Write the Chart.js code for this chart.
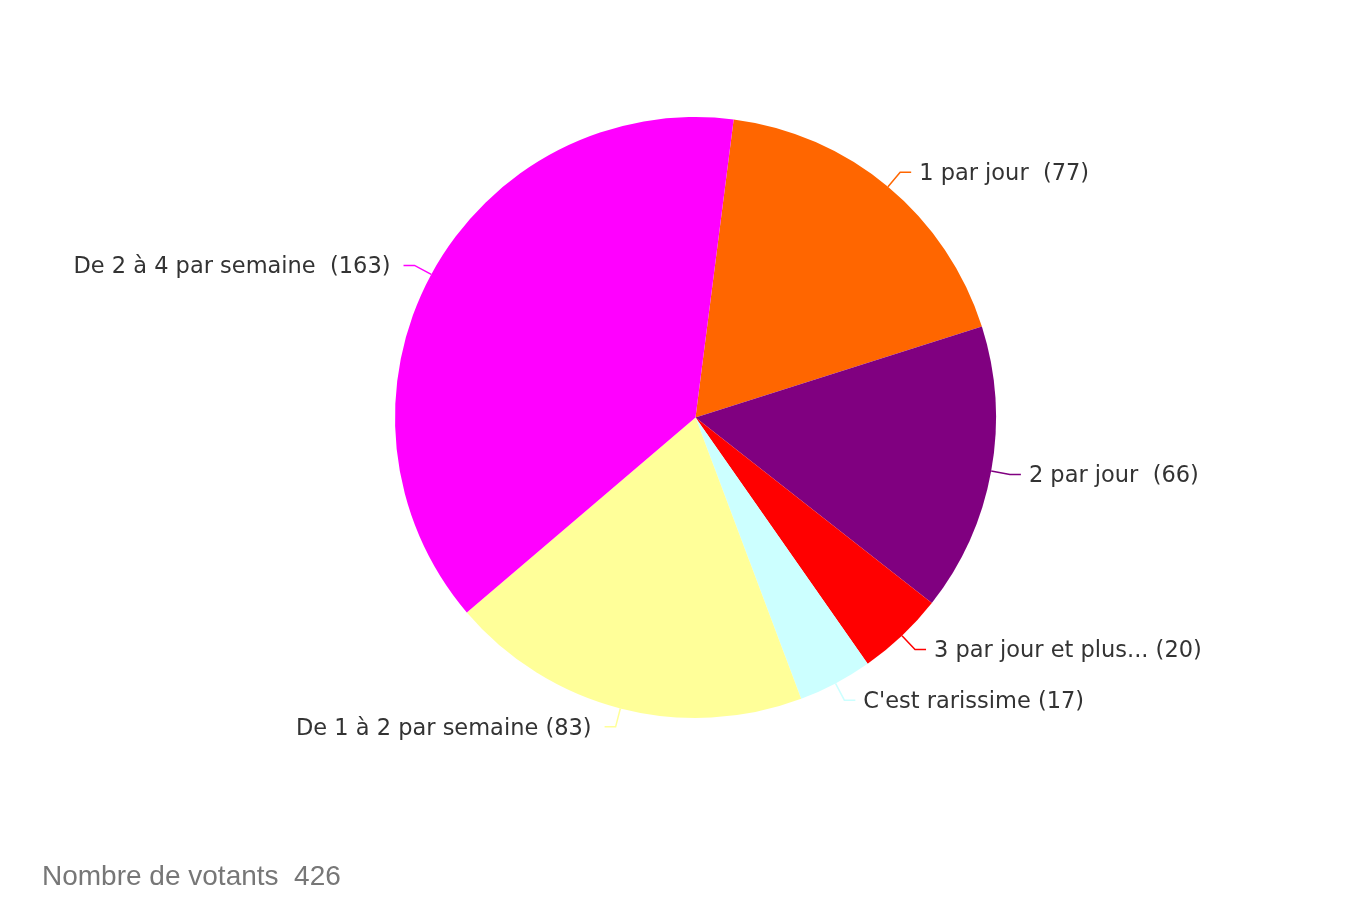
<!DOCTYPE html>
<html>
<head>
<meta charset="utf-8">
<script src="https://cdn.jsdelivr.net/npm/chart.js@4/dist/chart.umd.min.js"></script>
<style>
    html, body { margin: 0; padding: 0; background: #fff; }
    #wrap { position: relative; width: 1362px; height: 912px; }
    #votants {
        position: absolute; left: 42px; top: 862px;
        font-family: "Liberation Sans", Arial, sans-serif; font-size: 28px; line-height: 1;
        color: #777; white-space: pre;
    }
</style>
</head>
<body>
<div id="wrap">
    <canvas id="pieChart" width="1362" height="912"></canvas>
    <div id="votants"></div>
</div>
<script>
const categories = ['1 par jour', '2 par jour', '3 par jour et plus...', "C'est rarissime", 'De 1 à 2 par semaine', 'De 2 à 4 par semaine'];
const gaps = ['  ', '  ', ' ', ' ', ' ', '  '];
const votes = [77, 66, 20, 17, 83, 163];
const colors = ['#FF6600', '#800080', '#FF0000', '#CCFFFF', '#FFFF99', '#FF00FF'];

// étiquettes avec trait de rappel
const pieLabels = {
    id: 'pieLabels',
    afterDraw(chart) {
        const ctx = chart.ctx;
        const meta = chart.getDatasetMeta(0);
        ctx.save();
        ctx.font = '22.5px "DejaVu Sans", Verdana, sans-serif';
        ctx.textBaseline = 'middle';
        meta.data.forEach((arc, i) => {
            const mid = (arc.startAngle + arc.endAngle) / 2;
            const r = arc.outerRadius;
            const x0 = arc.x + Math.cos(mid) * r;
            const y0 = arc.y + Math.sin(mid) * r;
            const x1 = arc.x + Math.cos(mid) * (r + 19);
            const y1 = arc.y + Math.sin(mid) * (r + 19);
            const right = Math.cos(mid) >= 0;
            const x2 = x1 + (right ? 11 : -11);
            ctx.strokeStyle = colors[i];
            ctx.lineWidth = 1.5;
            ctx.beginPath();
            ctx.moveTo(x0, y0);
            ctx.lineTo(x1, y1);
            ctx.lineTo(x2, y1);
            ctx.stroke();
            ctx.fillStyle = '#333';
            ctx.textAlign = right ? 'left' : 'right';
            const txt = categories[i] + gaps[i] + '(' + votes[i] + ')';
            ctx.fillText(txt, x2 + (right ? 8 : -13), y1 + 2);
        });
        ctx.restore();
    }
};

new Chart(document.getElementById('pieChart'), {
    type: 'pie',
    data: {
        labels: categories,
        datasets: [{
            data: votes,
            backgroundColor: colors,
            borderWidth: 0
        }]
    },
    options: {
        responsive: false,
        animation: false,
        rotation: 7.3,
        layout: { padding: { top: 117, bottom: 194, left: 395, right: 366 } },
        plugins: { legend: { display: false }, tooltip: { enabled: false } }
    },
    plugins: [pieLabels]
});

const total = votes.reduce((s, v) => s + v, 0);
document.getElementById('votants').textContent = 'Nombre de votants  ' + total;
</script>
</body>
</html>
